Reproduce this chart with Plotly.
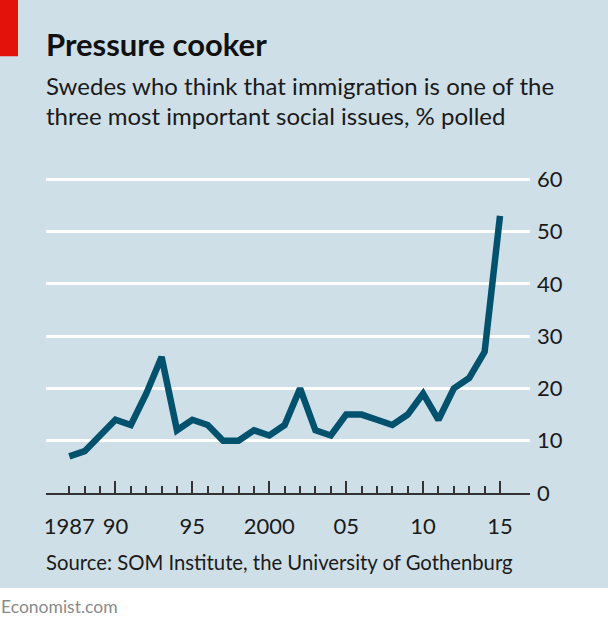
import plotly.graph_objects as go

# ---- data ----
years = list(range(1987, 2016))
share = [7, 8, 11, 14, 13, 19, 26, 12, 14, 13, 10, 10, 12, 11, 13, 20,
         12, 11, 15, 15, 14, 13, 15, 19, 14, 20, 22, 27, 53]
label_years = [1987, 1990, 1995, 2000, 2005, 2010, 2015]
label_text = ["1987", "90", "95", "2000", "05", "10", "15"]
major_years = [1990, 1995, 2000, 2005, 2010, 2015]
y_ticks = [0, 10, 20, 30, 40, 50, 60]

title = "Pressure cooker"
sub1 = "Swedes who think that immigration is one of the"
sub2 = "three most important social issues, % polled"
source = "Source: SOM Institute, the University of Gothenburg"

# ---- layout geometry ----
W, H = 608, 625
YPX = 52.33            # pixels per 10 units
YTOP = 61
ML, MR, MB = 46, 78, 132
MT = 493 - YTOP * YPX / 10
PW, PH = W - ML - MR, H - MT - MB
BG = "#cfdfe7"
LINE = "#02526e"
TXT = "#1a1a1a"
FONT = "Lato"


def px(x):
    return (x - ML) / PW


def py(y):
    return (H - MB - y) / PH


xr = [1985.485, 2016.95]

fig = go.Figure()
fig.add_trace(go.Scatter(x=years, y=share, mode="lines",
                         line=dict(color=LINE, width=6.5),
                         hoverinfo="skip", showlegend=False))
fig.add_trace(go.Scatter(x=years[:1], y=share[:1], xaxis="x2", mode="markers",
                         marker=dict(opacity=0), hoverinfo="skip", showlegend=False))

fig.update_layout(
    width=W, height=H,
    margin=dict(l=ML, r=MR, t=MT, b=MB, pad=0),
    paper_bgcolor=BG, plot_bgcolor=BG,
    font=dict(family=FONT, color=TXT),
    xaxis=dict(range=xr, tickmode="array", tickvals=major_years,
               ticks="inside", ticklen=12, tickwidth=1.5, tickcolor="#333333",
               showticklabels=False, showgrid=False, zeroline=False,
               showline=True, linecolor="#333333", linewidth=1.5,
               minor=dict(tickmode="array", tickvals=years, ticks="inside",
                          ticklen=7, tickwidth=1.5, tickcolor="#333333",
                          showgrid=False)),
    xaxis2=dict(range=xr, overlaying="x", anchor="y", side="bottom",
                tickmode="array", tickvals=label_years, ticktext=label_text,
                ticks="", showline=False, showgrid=False, zeroline=False,
                tickfont=dict(size=22, color=TXT, family=FONT),
                ticklabelstandoff=18),
    yaxis=dict(range=[0, YTOP], side="right", tickmode="array", tickvals=y_ticks,
               ticks="", showgrid=True, gridcolor="white", gridwidth=2.5,
               zeroline=False, showline=False,
               tickfont=dict(size=22, color=TXT, family=FONT),
               ticklabelstandoff=6),
    shapes=[
        dict(type="rect", xref="paper", yref="paper",
             x0=px(-5), x1=px(W + 5), y0=py(588), y1=py(H + 5),
             fillcolor="white", line=dict(width=0), layer="below"),
        dict(type="rect", xref="paper", yref="paper",
             x0=px(-5), x1=px(18), y0=py(-5), y1=py(56),
             fillcolor="#e3120b", line=dict(width=0), layer="above"),
    ],
    annotations=[
        dict(text="<b>" + title + "</b>", xref="paper", yref="paper",
             x=px(44), y=py(44), xanchor="left", yanchor="middle",
             showarrow=False, font=dict(size=31, color="#111111", family=FONT)),
        dict(text=sub1, xref="paper", yref="paper",
             x=px(44), y=py(85.5), xanchor="left", yanchor="middle",
             showarrow=False, font=dict(size=24, color=TXT, family=FONT)),
        dict(text=sub2, xref="paper", yref="paper",
             x=px(44), y=py(115), xanchor="left", yanchor="middle",
             showarrow=False, font=dict(size=24, color=TXT, family=FONT)),
        dict(text=source, xref="paper", yref="paper",
             x=px(44), y=py(562.5), xanchor="left", yanchor="middle",
             showarrow=False, font=dict(size=20.3, color=TXT, family=FONT)),
        dict(text="Economist.com", xref="paper", yref="paper",
             x=px(-1), y=py(607), xanchor="left", yanchor="middle",
             showarrow=False, font=dict(size=17.5, color="#8a8a8a", family=FONT)),
    ],
)

fig.write_html("out.html", config={"displayModeBar": False},
               post_script="document.body.style.margin='0';")
